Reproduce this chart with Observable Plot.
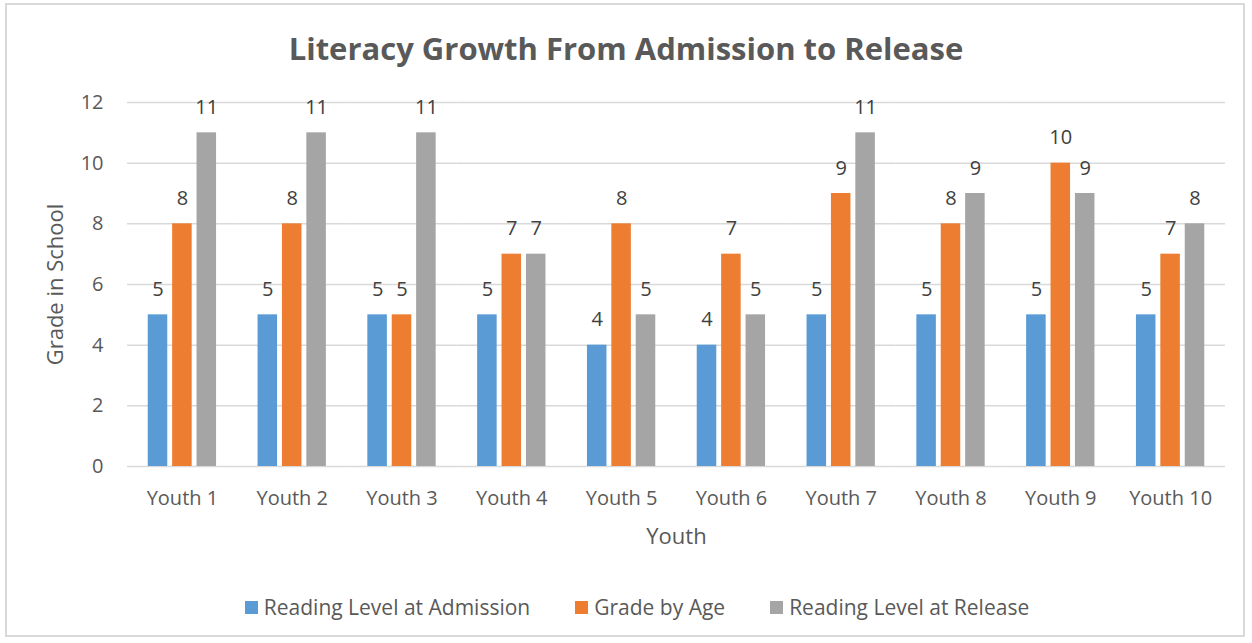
<!DOCTYPE html>
<html>
<head>
<meta charset="utf-8">
<script src="https://cdn.jsdelivr.net/npm/d3@7"></script>
<script src="https://cdn.jsdelivr.net/npm/@observablehq/plot@0.6"></script>
<style>
  html, body { margin: 0; padding: 0; background: #fff; }
  body { width: 1252px; height: 643px; position: relative; overflow: hidden; font-family: "Open Sans", sans-serif; }
  #border { position: absolute; left: 5px; top: 3px; width: 1240px; height: 634px; border: 2px solid #d9d9d9; box-sizing: border-box; }
  #title { position: absolute; left: 0; top: 28px; width: 1252px; text-align: center; font-size: 31px; font-weight: 700; color: #595959; line-height: 40px; }
  #chart { position: absolute; left: 0; top: 80px; }
  #legend { position: absolute; left: 0; top: 592px; width: 1252px; display: flex; justify-content: center; align-items: center; font-size: 21px; color: #595959; gap: 45px; padding-left: 22px; box-sizing: border-box; line-height: 30px; }
  .item { display: flex; align-items: center; gap: 6px; }
  .sw { width: 13px; height: 13px; display: inline-block; }
</style>
</head>
<body>
<div id="border"></div>
<div id="title">Literacy Growth From Admission to Release</div>
<div id="chart"></div>
<div id="legend"></div>
<script>
const youths = ["Youth 1","Youth 2","Youth 3","Youth 4","Youth 5","Youth 6","Youth 7","Youth 8","Youth 9","Youth 10"];
const series = ["Reading Level at Admission","Grade by Age","Reading Level at Release"];
const colors = ["#5b9bd5","#ed7d31","#a5a5a5"];
const admission = [5,5,5,5,4,4,5,5,5,5];
const gradeByAge = [8,8,5,7,8,7,9,8,10,7];
const release = [11,11,11,7,5,5,11,9,9,8];
const yTicks = [0,2,4,6,8,10,12];

const values = [admission, gradeByAge, release];
const data = [];
youths.forEach((y, i) => series.forEach((s, j) => data.push({youth: y, series: s, value: values[j][i]})));

const chart = Plot.plot({
  width: 1252,
  height: 490,
  marginLeft: 127,
  marginRight: 27,
  marginTop: 22,
  marginBottom: 104,
  style: {fontFamily: "Open Sans, sans-serif", fontSize: "20px", color: "#595959", background: "transparent"},
  fx: {domain: youths, padding: 0, round: false},
  x: {domain: series, paddingInner: 0.2, paddingOuter: 0.85, round: false, axis: null},
  y: {domain: [0, 12]},
  color: {domain: series, range: colors},
  marks: [
    Plot.gridY(yTicks, {stroke: "#d9d9d9", strokeOpacity: 1, strokeWidth: 1.5}),
    Plot.barY(data, {fx: "youth", x: "series", y: "value", fill: "series"}),
    Plot.text(data, {fx: "youth", x: "series", y: "value", text: d => String(d.value), dy: -19, lineAnchor: "bottom", fill: "#404040", fontSize: 20}),
    Plot.axisY(yTicks, {tickSize: 0, tickPadding: 24, fontSize: 20, fill: "#595959", label: "Grade in School", labelAnchor: "center", labelArrow: "none", labelOffset: 80}),
    Plot.axisFx({anchor: "bottom", tickSize: 0, tickPadding: 24, fontSize: 20, fill: "#595959", label: "Youth", labelAnchor: "center", labelArrow: "none", labelOffset: 77})
  ]
});
chart.querySelectorAll('[aria-label="y-axis label"], [aria-label="fx-axis label"]').forEach(g => {
  g.setAttribute("font-size", "22");
  g.querySelectorAll("text").forEach(t => t.setAttribute("font-size", "22"));
});
document.getElementById("chart").appendChild(chart);

const legend = document.getElementById("legend");
series.forEach((s, i) => {
  const item = document.createElement("div");
  item.className = "item";
  item.innerHTML = `<span class="sw" style="background:${colors[i]}"></span><span>${s}</span>`;
  legend.appendChild(item);
});
</script>
</body>
</html>
